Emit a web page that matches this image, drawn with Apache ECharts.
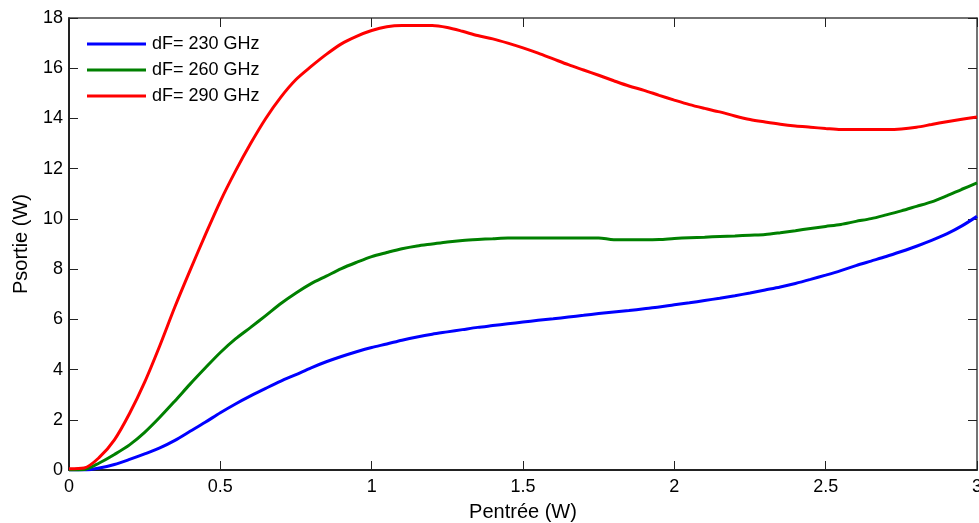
<!DOCTYPE html>
<html>
<head>
<meta charset="utf-8">
<script src="https://cdn.jsdelivr.net/npm/echarts@6/dist/echarts.min.js"></script>
<style>
  html, body { margin: 0; padding: 0; background: #fff; }
  #chart { width: 979px; height: 523px; }
</style>
</head>
<body>
<div id="chart"></div>
<script>
// Input power (W), sampled every 0.05 W
const pin = [
  0, 0.05, 0.1, 0.15, 0.2, 0.25, 0.3, 0.35, 0.4, 0.45,
  0.5, 0.55, 0.6, 0.65, 0.7, 0.75, 0.8, 0.85, 0.9, 0.95,
  1.0, 1.05, 1.1, 1.15, 1.2, 1.25, 1.3, 1.35, 1.4, 1.45,
  1.5, 1.55, 1.6, 1.65, 1.7, 1.75, 1.8, 1.85, 1.9, 1.95,
  2.0, 2.05, 2.1, 2.15, 2.2, 2.25, 2.3, 2.35, 2.4, 2.45,
  2.5, 2.55, 2.6, 2.65, 2.7, 2.75, 2.8, 2.85, 2.9, 2.95, 3.0
];

// Output power (W) for each frequency offset
const pout230 = [
  0, 0, 0.08, 0.22, 0.42, 0.64, 0.88, 1.18, 1.54, 1.9,
  2.28, 2.63, 2.95, 3.25, 3.54, 3.8, 4.07, 4.31, 4.52, 4.71,
  4.88, 5.02, 5.17, 5.3, 5.41, 5.5, 5.59, 5.68, 5.75, 5.82,
  5.89, 5.96, 6.02, 6.09, 6.16, 6.23, 6.29, 6.35, 6.42, 6.49,
  6.58, 6.66, 6.75, 6.84, 6.94, 7.05, 7.17, 7.29, 7.43, 7.59,
  7.76, 7.94, 8.14, 8.32, 8.5, 8.7, 8.91, 9.14, 9.4, 9.72, 10.1
];
const pout260 = [
  0, 0.02, 0.28, 0.62, 1.0, 1.5, 2.1, 2.75, 3.42, 4.06,
  4.68, 5.22, 5.68, 6.15, 6.63, 7.05, 7.42, 7.72, 8.02, 8.27,
  8.5, 8.66, 8.81, 8.92, 9.0, 9.08, 9.14, 9.18, 9.21, 9.24,
  9.24, 9.24, 9.24, 9.24, 9.24, 9.24, 9.17, 9.17, 9.17, 9.18,
  9.22, 9.25, 9.27, 9.3, 9.32, 9.35, 9.38, 9.45, 9.53, 9.62,
  9.7, 9.78, 9.9, 10.01, 10.16, 10.32, 10.5, 10.68, 10.92, 11.18, 11.43
];
const pout290 = [
  0.05, 0.08, 0.5, 1.2, 2.25, 3.5, 4.95, 6.5, 7.95, 9.35,
  10.7, 11.9, 13.0, 14.0, 14.85, 15.55, 16.07, 16.55, 16.97, 17.27,
  17.5, 17.65, 17.7, 17.7, 17.7, 17.62, 17.47, 17.3, 17.17, 17.0,
  16.81, 16.6, 16.37, 16.14, 15.93, 15.72, 15.5, 15.29, 15.12, 14.92,
  14.73, 14.55, 14.4, 14.26, 14.1, 13.96, 13.86, 13.77, 13.7, 13.65,
  13.6, 13.56, 13.56, 13.56, 13.56, 13.58, 13.65, 13.76, 13.87, 13.97, 14.06
];

const seriesNames = ['dF= 230 GHz', 'dF= 260 GHz', 'dF= 290 GHz'];
const seriesColors = ['#0000ff', '#008000', '#ff0000'];
const seriesValues = [pout230, pout260, pout290];

const FONT = 'Liberation Sans, Arial, Helvetica, sans-serif';
const AXIS_COLOR = '#222';

function pairs(ys) {
  return pin.map((x, i) => [x, ys[i]]);
}

const chart = echarts.init(document.getElementById('chart'), null, { renderer: 'canvas' });

const xCommon = {
  type: 'value', min: 0, max: 3, interval: 0.5,
  splitLine: { show: false },
  axisTick: { inside: true, length: 9, lineStyle: { color: AXIS_COLOR, width: 1 } }
};
const yCommon = {
  type: 'value', min: 0, max: 18, interval: 2,
  splitLine: { show: false },
  axisTick: { inside: true, length: 9, lineStyle: { color: AXIS_COLOR, width: 1 } }
};

chart.setOption({
  animation: false,
  backgroundColor: '#ffffff',
  grid: { left: 69, right: 2, top: 18, bottom: 53, containLabel: false, outerBoundsMode: 'none' },
  legend: {
    orient: 'vertical',
    left: 87,
    top: 35,
    padding: 0,
    itemWidth: 59,
    itemHeight: 3,
    itemGap: 8,
    icon: 'rect',
    selectedMode: false,
    textStyle: { fontFamily: FONT, fontSize: 18, color: '#000', padding: [0, 0, 0, 1], lineHeight: 18 },
    data: seriesNames
  },
  xAxis: [
    Object.assign({}, xCommon, {
      position: 'bottom',
      name: 'Pentrée (W)',
      nameLocation: 'middle',
      nameGap: 32,
      nameTextStyle: { fontFamily: FONT, fontSize: 20, color: '#000' },
      axisLine: { show: true, onZero: false, lineStyle: { color: AXIS_COLOR, width: 2 } },
      axisLabel: {
        margin: 8, fontFamily: FONT, fontSize: 18, color: '#000',
        formatter: v => String(v)
      }
    }),
    Object.assign({}, xCommon, {
      position: 'top',
      axisLine: { show: true, onZero: false, lineStyle: { color: '#444', width: 1.5 } },
      axisLabel: { show: false }
    })
  ],
  yAxis: [
    Object.assign({}, yCommon, {
      position: 'left',
      name: 'Psortie (W)',
      nameLocation: 'middle',
      nameGap: 38,
      nameTextStyle: { fontFamily: FONT, fontSize: 20, color: '#000' },
      axisLine: { show: true, onZero: false, lineStyle: { color: AXIS_COLOR, width: 2 } },
      axisLabel: { margin: 6, fontFamily: FONT, fontSize: 18, color: '#000' }
    }),
    Object.assign({}, yCommon, {
      position: 'right',
      axisLine: { show: true, onZero: false, lineStyle: { color: '#444', width: 1.5 } },
      axisLabel: { show: false }
    })
  ],
  series: seriesNames.map((name, i) => ({
    name: name,
    type: 'line',
    xAxisIndex: 0,
    yAxisIndex: 0,
    data: pairs(seriesValues[i]),
    showSymbol: false,
    symbol: 'none',
    smooth: 0.3,
    clip: true,
    color: seriesColors[i],
    lineStyle: { color: seriesColors[i], width: 3 }
  }))
});
</script>
</body>
</html>
